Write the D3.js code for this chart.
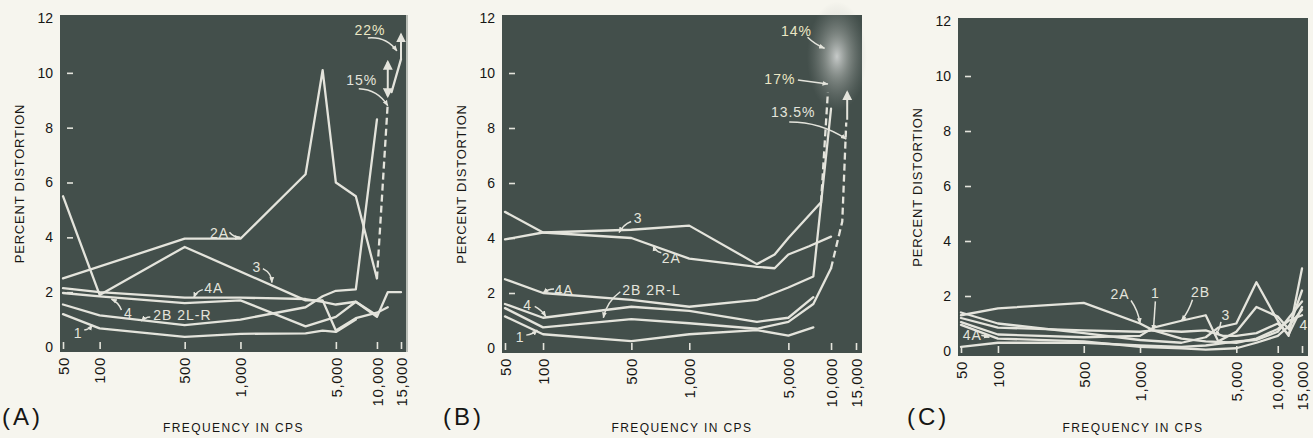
<!DOCTYPE html>
<html>
<head>
<meta charset="utf-8">
<script src="https://cdn.jsdelivr.net/npm/d3@7"></script>
<style>
  html, body { margin: 0; padding: 0; background: #f6f5ee; }
  svg { display: block; }
</style>
</head>
<body>
<svg id="chart" width="1313" height="438"></svg>
<script>
// ---------- axis values ----------
const freqTicks = [50, 100, 500, 1000, 5000, 10000, 15000];
const freqTickLabels = ["50", "100", "500", "1,000", "5,000", "10,000", "15,000"];
const pctTicks = [0, 2, 4, 6, 8, 10, 12];

// ---------- (A) distortion vs frequency, [cps, percent] ----------
const a1   = [[50,1.2],[100,0.68],[500,0.37],[1000,0.48],[3000,0.5],[4000,0.6],[5000,0.55],[7000,1.0]];
const a2B  = [[50,1.55],[100,1.15],[500,0.8],[1000,1.0],[3000,1.45],[4000,1.85],[5000,2.05],[7000,2.1],[10000,8.3]];
const a2A  = [[50,2.5],[500,3.95],[1000,3.95],[3000,6.3],[4000,10.1],[5000,6.0],[7000,5.5],[10000,2.5]];
const a3   = [[50,5.5],[100,1.9],[500,3.65],[3000,1.7],[4000,1.7],[5000,0.6],[7000,1.05],[10000,1.25],[12000,1.45]];
const a4   = [[50,1.97],[100,1.85],[500,1.6],[1000,1.7],[3000,0.75],[5000,1.1],[7000,1.65],[10000,1.15]];
const a4A  = [[50,2.15],[100,2.0],[500,1.8],[1000,1.8],[3000,1.75],[4000,1.65],[5000,1.55],[7000,1.65],[10000,1.1],[12000,2.0],[15000,2.0]];
const a2LR = [[10000,2.5],[12000,8.9]];            // dashed run toward 15%
const a22  = [[12800,9.3],[15000,10.5]];           // run toward 22%
const aOff = [{f:12000, from:9.15, to:10.4, both:true}, {f:15000, from:10.5, to:11.4, both:false}];

// ---------- (B) ----------
const b1   = [[50,1.15],[100,0.5],[500,0.25],[1000,0.5],[3000,0.65],[5000,0.45],[7500,0.75]];
const b2B  = [[50,1.45],[100,0.75],[500,1.05],[1000,0.9],[3000,0.7],[5000,0.95],[7500,1.6],[10000,2.9]];
const b4   = [[50,1.6],[100,1.1],[500,1.5],[1000,1.35],[3000,0.95],[5000,1.1],[7500,1.85]];
const b4A  = [[50,2.5],[100,2.0],[500,1.75],[1000,1.5],[3000,1.75],[5000,2.2],[7500,2.6],[10000,8.7]];
const b2A  = [[50,4.95],[100,4.2],[500,4.0],[1000,3.25],[3000,2.95],[4000,2.9],[5000,3.4],[7000,3.7],[10000,4.05]];
const b3   = [[50,3.95],[100,4.2],[500,4.3],[1000,4.45],[3000,3.05],[4000,3.4],[5000,4.0],[8500,5.3]];
const b3x  = [[8500,5.3],[9500,9.3]];              // dashed run toward 17%
const b2RL = [[10000,2.9],[12000,4.6],[12800,8.2]]; // dashed run toward 13.5%
const bOff = [{f:13000, from:8.3, to:9.3, both:false}];

// ---------- (C) ----------
const c1   = [[50,1.2],[100,0.85],[500,0.75],[1000,0.7],[1250,0.75],[2000,0.7],[3000,0.75],[4000,0.55],[5000,0.55],[7000,0.65],[10000,1.0],[12000,0.6],[15000,1.6]];
const c2A  = [[50,1.3],[100,1.55],[500,1.75],[1000,1.0],[1250,0.75],[2000,0.45],[3000,0.35],[5000,0.3],[7000,0.45],[10000,0.8],[12000,1.1],[15000,1.3]];
const c2B  = [[50,1.05],[100,0.6],[500,0.5],[1000,0.55],[1250,0.85],[2000,1.1],[3000,1.3],[3700,0.35],[5000,0.7],[7000,1.6],[10000,1.25],[12000,0.8],[15000,2.2]];
const c3   = [[50,1.4],[100,1.0],[500,0.65],[1000,0.4],[2000,0.3],[3000,0.5],[3700,0.85],[5000,1.0],[7000,2.5],[10000,1.1],[12000,0.55],[15000,3.0]];
const c4   = [[50,0.95],[100,0.45],[500,0.35],[1000,0.15],[2000,0.1],[3000,0.05],[5000,0.1],[7000,0.3],[10000,0.55],[12000,0.9],[15000,1.5]];
const c4A  = [[50,0.15],[100,0.3],[500,0.3],[1000,0.2],[2000,0.15],[3000,0.2],[5000,0.35],[7000,0.4],[10000,0.7],[12000,1.2],[15000,1.8]];

// curve labels: text, anchor point on the curve [cps, %], text offset, arrow start offset, bend
const aLabels = [
  {t:"2A", f:1000, v:4.0, tx:-21, ty:-4, sx:-11, sy:-5, bend:3},
  {t:"3", f:1700, v:2.35, tx:-15, ty:-16, sx:-9, sy:-14, bend:-5},
  {t:"4A", f:560, v:1.8, tx:20, ty:-10, sx:9, sy:-8, bend:3},
  {t:"4", f:125, v:1.75, tx:17, ty:14, sx:10, sy:11, bend:3},
  {t:"2B  2L-R", f:220, v:0.95, tx:12, ty:-6, sx:9, sy:-4, bend:2, start:true},
  {t:"1", f:87, v:0.8, tx:-14, ty:8, sx:-8, sy:5, bend:2},
  {t:"15%", f:12000, v:8.8, tx:-26, ty:-26, sx:-29, sy:-17, bend:-9},
  {t:"22%", f:14000, v:10.8, tx:-27, ty:-21, sx:-29, sy:-13, bend:-9, warm:true}
];
const bLabels = [
  {t:"3", f:400, v:4.2, tx:19, ty:-15, sx:12, sy:-11, bend:3},
  {t:"2A", f:650, v:3.72, tx:18, ty:12, sx:8, sy:7, bend:-3},
  {t:"4A", f:100, v:2.0, tx:21, ty:-3, sx:11, sy:-4, bend:2},
  {t:"2B  2R-L", f:300, v:1.1, tx:19, ty:-28, sx:17, sy:-26, bend:6, start:true},
  {t:"4", f:105, v:1.15, tx:-18, ty:-11, sx:-11, sy:-10, bend:-2},
  {t:"1", f:90, v:0.65, tx:-17, ty:7, sx:-11, sy:5, bend:2},
  {t:"14%", f:9000, v:10.9, tx:-28, ty:-17, sx:-17, sy:-11, bend:2, warm:true},
  {t:"17%", f:9500, v:9.6, tx:-48, ty:-5, sx:-30, sy:-4, bend:0, warm:true},
  {t:"13.5%", f:12800, v:7.6, tx:-53, ty:-27, sx:-57, sy:-17, bend:-9}
];
const cLabels = [
  {t:"2A", f:1000, v:1.0, tx:-20, ty:-30, sx:-9, sy:-23, bend:-3},
  {t:"1", f:1250, v:0.75, tx:2, ty:-37, sx:2, sy:-29, bend:0},
  {t:"2B", f:2000, v:1.1, tx:19, ty:-29, sx:11, sy:-21, bend:-2},
  {t:"3", f:3500, v:0.55, tx:11, ty:-21, sx:6, sy:-14, bend:-2},
  {t:"4A", f:85, v:0.5, tx:-17, ty:-2, sx:-8, sy:-2, bend:0},
  {t:"4", f:14500, v:1.2, tx:4, ty:7, sx:0, sy:0, bend:0, noArrow:true}
];

const panels = [
  { tag:"(A)", tagX:2, rect:{x:60, y:15, w:347, h:337},
    solid:[a1, a2B, a2A, a3, a4, a4A, a22], dashed:[a2LR], off:aOff, labels:aLabels, edge:true },
  { tag:"(B)", tagX:443, rect:{x:502, y:15, w:360, h:338},
    solid:[b1, b2B, b4, b4A, b2A, b3], dashed:[b3x, b2RL], off:bOff, labels:bLabels, glare:true },
  { tag:"(C)", tagX:907, rect:{x:958, y:18, w:350, h:338},
    solid:[c4A, c4, c1, c2B, c3, c2A], dashed:[], off:[], labels:cLabels }
];

// ---------- drawing ----------
const INK = "#e4e4dc";
const FIELD = "#434f4b";
const TEXT = "#161614";
const FONT = "'Liberation Sans', Arial, sans-serif";
const svg = d3.select("#chart");
const defs = svg.append("defs");

defs.append("marker").attr("id", "tip")
  .attr("viewBox", "0 0 10 10").attr("refX", 9).attr("refY", 5)
  .attr("markerWidth", 6).attr("markerHeight", 6)
  .attr("markerUnits", "userSpaceOnUse").attr("orient", "auto-start-reverse")
  .append("path").attr("d", "M0,1 L10,5 L0,9 Z").attr("fill", INK);
defs.append("marker").attr("id", "head")
  .attr("viewBox", "0 0 10 10").attr("refX", 8).attr("refY", 5)
  .attr("markerWidth", 10).attr("markerHeight", 10)
  .attr("markerUnits", "userSpaceOnUse").attr("orient", "auto-start-reverse")
  .append("path").attr("d", "M0,0 L10,5 L0,10 Z").attr("fill", INK);
const glare = defs.append("radialGradient").attr("id", "glare");
glare.append("stop").attr("offset", "0%").attr("stop-color", "#ffffff").attr("stop-opacity", 0.7);
glare.append("stop").attr("offset", "40%").attr("stop-color", "#d8dad6").attr("stop-opacity", 0.4);
glare.append("stop").attr("offset", "100%").attr("stop-color", "#9aa09c").attr("stop-opacity", 0);

// the printed frequency grid is logarithmic, with 500 cps ruled a little left of its strict log place
function buildX(r) {
  const x0 = r.x + 3, x1 = r.x + r.w - 6, span = x1 - x0;
  return d3.scaleLog()
    .domain([50, 500, 1000, 15000])
    .range([x0, x0 + span * 0.36, x0 + span * 0.525, x1]);
}

panels.forEach(p => {
  const r = p.rect;
  const x = buildX(r);
  const y = d3.scaleLinear().domain([0, 12]).range([r.y + r.h - 5, r.y + 3]);
  const g = svg.append("g");

  // plotting field
  g.append("rect").attr("x", r.x).attr("y", r.y).attr("width", r.w).attr("height", r.h)
    .attr("fill", FIELD);
  if (p.edge) {
    g.append("line").attr("x1", r.x + r.w).attr("x2", r.x + r.w)
      .attr("y1", r.y).attr("y2", r.y + r.h)
      .attr("stroke", "#b9bdb6").attr("stroke-width", 2);
  }
  if (p.glare) {
    g.append("ellipse").attr("cx", x(11000)).attr("cy", y(10.6))
      .attr("rx", 30).attr("ry", 55).attr("fill", "url(#glare)");
  }

  // y axis: numbers outside, short dashes inside the field
  const ya = g.append("g").attr("transform", `translate(${r.x},0)`)
    .call(d3.axisLeft(y).tickValues(pctTicks).tickSize(0).tickPadding(7));
  ya.select(".domain").remove();
  ya.selectAll("text").attr("fill", TEXT)
    .style("font-family", FONT).style("font-size", "14px");
  const yd = g.append("g").attr("transform", `translate(${r.x + 13},0)`)
    .call(d3.axisLeft(y).tickValues(pctTicks.slice(1, -1)).tickSize(6).tickFormat(""));
  yd.select(".domain").remove();
  yd.selectAll("line").attr("stroke", INK).attr("stroke-width", 1.6);

  // x axis: short ticks inside, rotated numbers below
  const xa = g.append("g").attr("transform", `translate(0,${r.y + r.h})`)
    .call(d3.axisBottom(x).tickValues(freqTicks)
      .tickFormat((d, i) => freqTickLabels[i])
      .tickSizeInner(-10).tickSizeOuter(0).tickPadding(0));
  xa.select(".domain").remove();
  xa.selectAll("line").attr("y1", -3).attr("stroke", INK).attr("stroke-width", 1.6);
  xa.selectAll("text")
    .attr("transform", "rotate(-90)")
    .attr("x", -5).attr("y", 0).attr("dy", "0.35em")
    .attr("text-anchor", "end").attr("fill", TEXT)
    .style("font-family", FONT).style("font-size", "15px").style("letter-spacing", "0.6px");

  // curves
  const line = d3.line().x(d => x(d[0])).y(d => y(d[1]));
  g.append("g").selectAll("path").data(p.solid).join("path")
    .attr("d", line).attr("fill", "none").attr("stroke", INK)
    .attr("stroke-width", 2.3).attr("stroke-linejoin", "round").attr("stroke-linecap", "round");
  g.append("g").selectAll("path").data(p.dashed).join("path")
    .attr("d", line).attr("fill", "none").attr("stroke", INK)
    .attr("stroke-width", 2.3).attr("stroke-dasharray", "7,4");

  // off-scale arrows
  g.append("g").selectAll("line").data(p.off).join("line")
    .attr("x1", d => x(d.f)).attr("x2", d => x(d.f))
    .attr("y1", d => y(d.from)).attr("y2", d => y(d.to))
    .attr("stroke", INK).attr("stroke-width", 2)
    .attr("marker-end", "url(#head)")
    .attr("marker-start", d => d.both ? "url(#head)" : null);

  // curve labels with hooked pointers
  const lab = g.append("g");
  p.labels.forEach(l => {
    const px = x(l.f), py = y(l.v);
    if (!l.noArrow) {
      const sx = px + l.sx, sy = py + l.sy;
      const mx = (sx + px) / 2, my = (sy + py) / 2;
      const len = Math.hypot(px - sx, py - sy) || 1;
      const cx = mx + (-(py - sy) / len) * l.bend, cy = my + ((px - sx) / len) * l.bend;
      lab.append("path")
        .attr("d", `M${sx},${sy} Q${cx},${cy} ${px},${py}`)
        .attr("fill", "none").attr("stroke", INK).attr("stroke-width", 1.5)
        .attr("marker-end", "url(#tip)");
    }
    lab.append("text")
      .attr("x", px + l.tx).attr("y", py + l.ty).attr("dy", "0.36em")
      .attr("text-anchor", l.start ? "start" : "middle")
      .attr("fill", l.warm ? "#ece7c4" : INK)
      .style("font-family", FONT).style("font-size", "14px").style("letter-spacing", "1px")
      .text(l.t);
  });

  // titles
  g.append("text")
    .attr("transform", `translate(${r.x - 41},${r.y + r.h / 2}) rotate(-90)`)
    .attr("text-anchor", "middle").attr("dy", "0.35em").attr("fill", TEXT)
    .style("font-family", FONT).style("font-size", "13px").style("letter-spacing", "0.8px")
    .text("PERCENT DISTORTION");
  g.append("text")
    .attr("x", r.x + r.w / 2).attr("y", 432).attr("text-anchor", "middle").attr("fill", TEXT)
    .style("font-family", FONT).style("font-size", "12px").style("letter-spacing", "1.4px")
    .text("FREQUENCY IN CPS");
  g.append("text")
    .attr("x", p.tagX).attr("y", 425).attr("fill", TEXT)
    .style("font-family", FONT).style("font-size", "24px").style("letter-spacing", "3px")
    .text(p.tag);
});
</script>
</body>
</html>
